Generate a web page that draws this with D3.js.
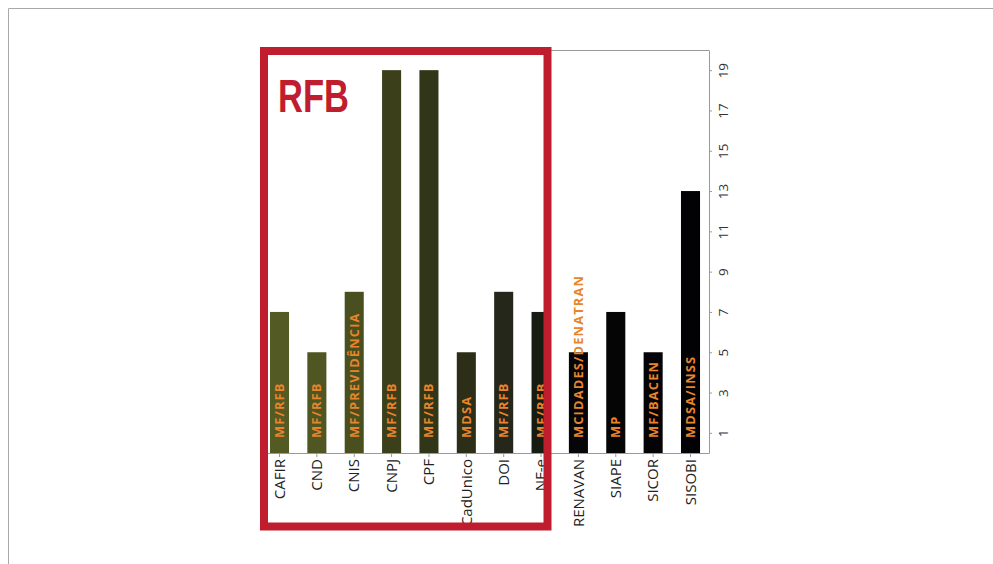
<!DOCTYPE html>
<html><head><meta charset="utf-8">
<script src="https://cdn.jsdelivr.net/npm/d3@7"></script>
<style>html,body{margin:0;padding:0;background:#fff;}svg{display:block;}</style>
</head><body>
<svg id="c" width="993" height="564"></svg>
<script>
const categories = ["CAFIR","CND","CNIS","CNPJ","CPF","CadUnico","DOI","NF-e","RENAVAN","SIAPE","SICOR","SISOBI"];
const values = [7,5,8,19,19,5,8,7,5,7,5,13];
const owners = ["MF/RFB","MF/RFB","MF/PREVIDÊNCIA","MF/RFB","MF/RFB","MDSA","MF/RFB","MF/RFB","MCIDADES/DENATRAN","MP","MF/BACEN","MDSA/INSS"];
const barColors = ["#535a24","#4f5622","#4a4f20","#3c401a","#323618","#2c2e18","#24271a","#171c12","#060609","#050505","#040407","#020205"];
const yTicks = [1,3,5,7,9,11,13,15,17,19];

const svg = d3.select("#c");
// outer frame
svg.append("line").attr("x1",8.5).attr("x2",993).attr("y1",8.5).attr("y2",8.5).attr("stroke","#a8a8a8");
svg.append("line").attr("x1",8.5).attr("x2",8.5).attr("y1",8.5).attr("y2",564).attr("stroke","#a8a8a8");

const x = d3.scaleBand().domain(categories).range([261,709]).paddingInner(0.49).paddingOuter(0.24);
const y = d3.scaleLinear().domain([0,20]).range([453,50]);

// plot top border
svg.append("line").attr("x1",261).attr("x2",709).attr("y1",50.5).attr("y2",50.5).attr("stroke","#999");

// bars
svg.selectAll("rect.bar").data(categories).enter().append("rect")
  .attr("class","bar")
  .attr("x",d=>x(d)).attr("width",x.bandwidth())
  .attr("y",(d,i)=>y(values[i])).attr("height",(d,i)=>y(0)-y(values[i]))
  .attr("fill",(d,i)=>barColors[i]);

// in-bar labels
svg.selectAll("text.own").data(categories).enter().append("text")
  .attr("class","own")
  .attr("transform",d=>`translate(${x(d)+x.bandwidth()/2+4.5},${y(0)-15}) rotate(-90)`)
  .attr("text-anchor","start")
  .attr("font-family","'Open Sans', sans-serif").attr("font-weight","bold")
  .attr("font-size",12.8).attr("letter-spacing",1.2)
  .attr("fill","#e8842a")
  .text((d,i)=>owners[i]);

// x axis
const xg = svg.append("g").attr("transform","translate(0,453)")
  .call(d3.axisBottom(x).tickSize(4).tickSizeOuter(0));
xg.select(".domain").attr("stroke","#999");
xg.selectAll(".tick line").attr("stroke","#999");
xg.selectAll(".tick text")
  .attr("transform","rotate(-90)").attr("text-anchor","end")
  .attr("x",-6).attr("y",0).attr("dy","0.35em")
  .attr("font-family","'Open Sans', sans-serif").attr("font-size",15).attr("fill","#222");

// y axis (right)
const yg = svg.append("g").attr("transform","translate(709,0)")
  .call(d3.axisRight(y).tickValues(yTicks).tickSize(3).tickSizeOuter(0));
yg.select(".domain").attr("stroke","#999");
yg.selectAll(".tick line").attr("stroke","#999");
yg.selectAll(".tick text")
  .attr("transform","rotate(-90)").attr("text-anchor","middle")
  .attr("x",0).attr("y",14).attr("dy","0.35em")
  .attr("font-family","'Open Sans', sans-serif").attr("font-size",13.5).attr("fill","#333");

// red highlight box
svg.append("rect").attr("x",264).attr("y",51).attr("width",283.5).attr("height",475.5)
  .attr("fill","none").attr("stroke","#c01e2e").attr("stroke-width",8);
svg.append("text").attr("x",278).attr("y",112)
  .attr("font-family","'Liberation Sans', sans-serif")
  .attr("font-weight","bold").attr("font-size",46).attr("fill","#c01e2e")
  .attr("textLength",71).attr("lengthAdjust","spacingAndGlyphs")
  .text("RFB");
</script>
</body></html>
